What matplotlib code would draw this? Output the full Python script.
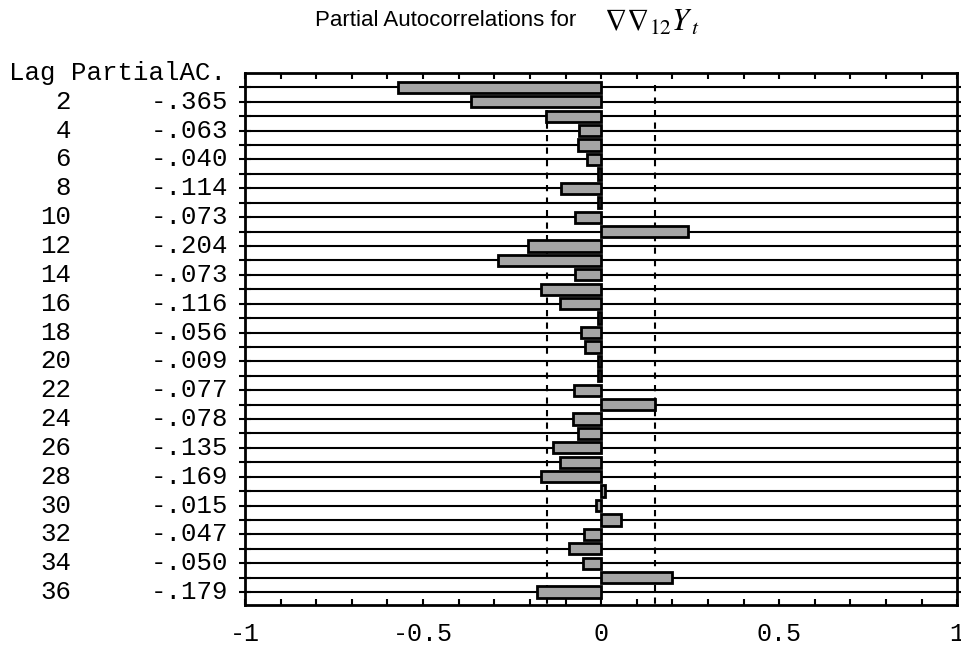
"""
Partial autocorrelations bar chart
"""
import matplotlib
matplotlib.use("Agg")
import matplotlib.pyplot as plt
import matplotlib.transforms as mtransforms

plt.rcParams["mathtext.fontset"] = "stix"

lags = list(range(1, 37))
pacf = [
    -0.570, -0.365, -0.154, -0.063, -0.065, -0.040, -0.008, -0.114, -0.008,
    -0.073, 0.245, -0.204, -0.290, -0.073, -0.170, -0.116, -0.008, -0.056,
    -0.046, -0.009, -0.008, -0.077, 0.152, -0.078, -0.065, -0.135, -0.116,
    -0.169, 0.012, -0.015, 0.055, -0.047, -0.090, -0.050, 0.200, -0.179,
]
conf_limit = 0.152
x_ticks = [-1, -0.5, 0, 0.5, 1]
x_tick_labels = ["-1", "-0.5", "0", "0.5", "1"]

mono = "Liberation Mono"

fig = plt.figure(figsize=(9.61, 6.46), dpi=100)
ax = fig.add_axes([0.255, 0.0635, 0.741, 0.8235])

for lag in lags:
    ax.axhline(lag, color="black", lw=1.5, zorder=1)
ax.vlines([-conf_limit, conf_limit], 0.8, 36.9, colors="black",
          linestyles=(0, (3, 3)), lw=1.5, zorder=1.5)
ax.barh(lags, pacf, height=0.78, color="#a4a4a4", edgecolor="black",
        linewidth=2, zorder=2)

ax.set_xlim(-1, 1)
ax.set_ylim(36.9, 0.0)
for side in ["left", "right", "top", "bottom"]:
    ax.spines[side].set_linewidth(2)

ax.set_xticks(x_ticks)
ax.set_xticklabels(x_tick_labels, fontfamily=mono, fontsize=18)
ax.set_xticks([i / 10 for i in range(-10, 11)], minor=True)
ax.tick_params(axis="x", which="both", direction="in", top=True,
               length=4, width=1.5, pad=12)
ax.set_yticks(lags)
ax.set_yticklabels([])
ax.tick_params(axis="y", which="both", direction="inout", right=True,
               length=8, width=1.5)

# lag / value table on the left
trans = mtransforms.blended_transform_factory(fig.transFigure, ax.transData)
ax.text(0.009, 0.0, "Lag PartialAC.", transform=trans, fontfamily=mono,
        fontsize=18.5, ha="left", va="center", clip_on=False)
for lag, val in zip(lags, pacf):
    if lag % 2:
        continue
    txt = f"{val:.3f}".replace("0.", ".", 1)
    ax.text(0.074, lag, str(lag), transform=trans, fontfamily=mono,
            fontsize=18.5, ha="right", va="center", clip_on=False)
    ax.text(0.238, lag, txt, transform=trans, fontfamily=mono,
            fontsize=18.5, ha="right", va="center", clip_on=False)

fig.text(0.328, 0.968, "Partial Autocorrelations for",
         fontfamily="Liberation Sans", fontsize=16, ha="left", va="center")
fig.text(0.629, 0.966, r"$\nabla\nabla_{12}Y_{\,t}$", fontsize=22,
         ha="left", va="center")

fig.savefig("out.png", dpi=100)
